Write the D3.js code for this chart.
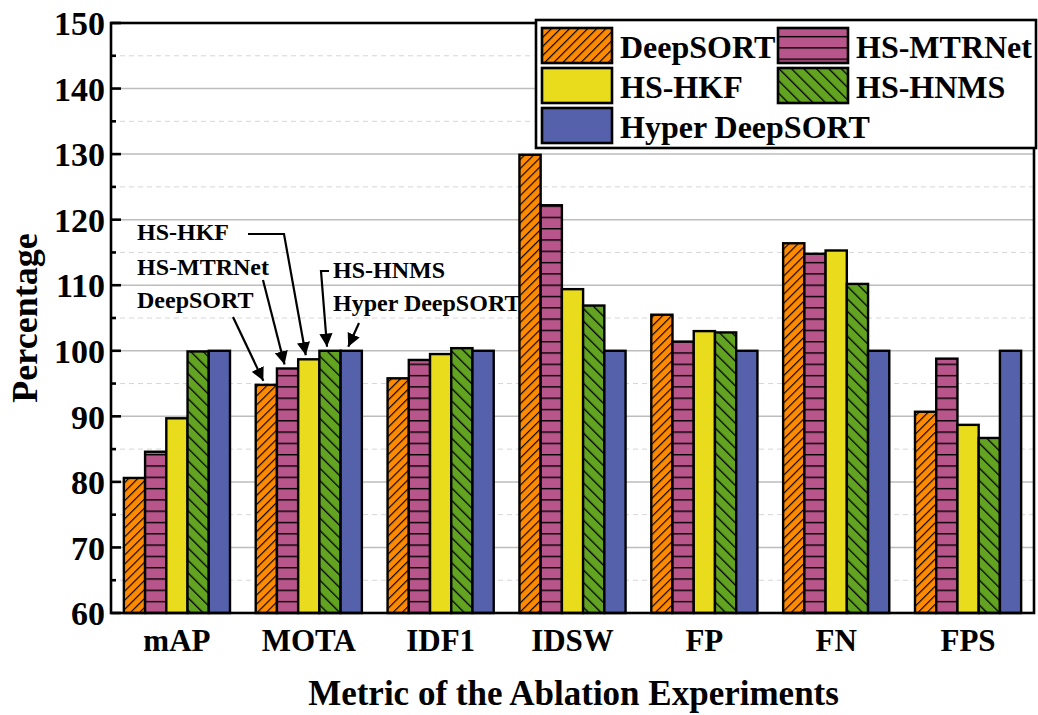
<!DOCTYPE html>
<html>
<head>
<meta charset="utf-8">
<script src="https://cdn.jsdelivr.net/npm/d3@7"></script>
<style>
  html, body { margin: 0; padding: 0; background: #fff; }
  svg { display: block; font-family: "Liberation Serif", "Times New Roman", serif; font-weight: bold; }
</style>
</head>
<body>
<svg id="chart" width="1038" height="715"></svg>
<script>
// Metrics on the x axis
const categories = ["mAP", "MOTA", "IDF1", "IDSW", "FP", "FN", "FPS"];
// Methods compared in the ablation study
const seriesNames = ["DeepSORT", "HS-MTRNet", "HS-HKF", "HS-HNMS", "Hyper DeepSORT"];
// Percentage values, one array per method (same order as categories)
const deepSORT      = [80.6, 94.8, 95.8, 129.9, 105.5, 116.4, 90.7];
const hsMTRNet      = [84.6, 97.3, 98.6, 122.2, 101.4, 114.8, 98.8];
const hsHKF         = [89.7, 98.7, 99.5, 109.4, 103.0, 115.3, 88.7];
const hsHNMS        = [99.9, 100.0, 100.4, 106.9, 102.8, 110.2, 86.7];
const hyperDeepSORT = [100.0, 100.0, 100.0, 100.0, 100.0, 100.0, 100.0];
const seriesValues = [deepSORT, hsMTRNet, hsHKF, hsHNMS, hyperDeepSORT];
// Y axis ticks
const majorTicks = [60, 70, 80, 90, 100, 110, 120, 130, 140, 150];
const minorTicks = [65, 75, 85, 95, 105, 115, 125, 135, 145];

const svg = d3.select("#chart");
const margin = { left: 111, right: 1034, top: 23, bottom: 613 };

const x = d3.scaleBand().domain(categories).range([margin.left, margin.right]).padding(0);
const groupW = x.bandwidth() * 0.805;
const xs = d3.scaleBand().domain(seriesNames).range([0, groupW]).padding(0);
const y = d3.scaleLinear().domain([60, 150]).range([margin.bottom, margin.top]);

// Fill patterns
const defs = svg.append("defs");
function hatch(id, bg, size, angle, sw) {
  const p = defs.append("pattern").attr("id", id).attr("patternUnits", "userSpaceOnUse")
    .attr("width", size).attr("height", size).attr("patternTransform", `rotate(${angle})`);
  p.append("rect").attr("width", size).attr("height", size).attr("fill", bg);
  p.append("line").attr("x1", 0).attr("y1", -1).attr("x2", 0).attr("y2", size + 1)
    .attr("stroke", "#000").attr("stroke-width", sw);
}
hatch("pDeep", "#FF8A00", 6.4, 45, 2.3);
hatch("pHNMS", "#63A322", 8.8, -45, 2.6);
const ph = defs.append("pattern").attr("id", "pMTR").attr("patternUnits", "userSpaceOnUse")
  .attr("width", 20).attr("height", 11.3).attr("y", 2);
ph.append("rect").attr("width", 20).attr("height", 11.3).attr("fill", "#B8558A");
ph.append("line").attr("x1", 0).attr("x2", 20).attr("y1", 0).attr("y2", 0)
  .attr("stroke", "#000").attr("stroke-width", 2.8);

const fills = {
  "DeepSORT": "url(#pDeep)",
  "HS-MTRNet": "url(#pMTR)",
  "HS-HKF": "#E8DC1C",
  "HS-HNMS": "url(#pHNMS)",
  "Hyper DeepSORT": "#5661AB"
};

// Grid lines
svg.append("g").selectAll("line.minor").data(minorTicks).join("line")
  .attr("x1", margin.left).attr("x2", margin.right)
  .attr("y1", d => y(d)).attr("y2", d => y(d))
  .attr("stroke", "#d6d6d6").attr("stroke-width", 1).attr("stroke-dasharray", "5,4");
svg.append("g").selectAll("line.major").data(majorTicks.filter(d => d > 60 && d < 150)).join("line")
  .attr("x1", margin.left).attr("x2", margin.right)
  .attr("y1", d => y(d)).attr("y2", d => y(d))
  .attr("stroke", "#bdbdbd").attr("stroke-width", 1.5);

// Bars
const rows = [];
categories.forEach((c, i) => seriesNames.forEach((s, j) => rows.push({ c, s, v: seriesValues[j][i] })));
const gx = c => x(c) + (x.bandwidth() - groupW) / 2;
svg.append("g").selectAll("rect").data(rows).join("rect")
  .attr("x", d => gx(d.c) + xs(d.s))
  .attr("y", d => y(d.v))
  .attr("width", xs.bandwidth())
  .attr("height", d => y(60) - y(d.v))
  .attr("fill", d => fills[d.s])
  .attr("stroke", "#000").attr("stroke-width", 2.4);

// Frame
svg.append("rect").attr("x", margin.left).attr("y", margin.top)
  .attr("width", margin.right - margin.left).attr("height", margin.bottom - margin.top)
  .attr("fill", "none").attr("stroke", "#000").attr("stroke-width", 2.6);

// Y axis ticks (inward) and labels
svg.append("g").selectAll("line").data(majorTicks).join("line")
  .attr("x1", margin.left).attr("x2", margin.left + 10)
  .attr("y1", d => y(d)).attr("y2", d => y(d)).attr("stroke", "#000").attr("stroke-width", 2.6);
svg.append("g").selectAll("line").data(minorTicks).join("line")
  .attr("x1", margin.left).attr("x2", margin.left + 5)
  .attr("y1", d => y(d)).attr("y2", d => y(d)).attr("stroke", "#000").attr("stroke-width", 2.6);
svg.append("g").selectAll("text").data(majorTicks).join("text")
  .attr("x", margin.left - 6).attr("y", d => y(d)).attr("dy", "0.36em")
  .attr("text-anchor", "end").attr("font-size", 34).text(d => d);

// X labels
svg.append("g").selectAll("text").data(categories).join("text")
  .attr("x", d => x(d) + x.bandwidth() / 2).attr("y", 651)
  .attr("text-anchor", "middle").attr("font-size", 31).text(d => d);

// Axis titles
svg.append("text").attr("x", (margin.left + margin.right) / 2 + 1).attr("y", 705)
  .attr("text-anchor", "middle").attr("font-size", 35).text("Metric of the Ablation Experiments");
svg.append("text").attr("transform", `translate(37,${(margin.top + margin.bottom) / 2}) rotate(-90)`)
  .attr("text-anchor", "middle").attr("font-size", 36).text("Percentage");

// Legend
const lg = svg.append("g");
lg.append("rect").attr("x", 536).attr("y", 20).attr("width", 500).attr("height", 128)
  .attr("fill", "#fff").attr("stroke", "#000").attr("stroke-width", 2.6);
const legendPos = [
  { s: "DeepSORT", x: 542, y: 28 },
  { s: "HS-MTRNet", x: 778, y: 28 },
  { s: "HS-HKF", x: 542, y: 68 },
  { s: "HS-HNMS", x: 778, y: 68 },
  { s: "Hyper DeepSORT", x: 542, y: 108 }
];
legendPos.forEach(d => {
  lg.append("rect").attr("x", d.x).attr("y", d.y).attr("width", 70).attr("height", 35)
    .attr("fill", fills[d.s]).attr("stroke", "#000").attr("stroke-width", 2.6);
  lg.append("text").attr("x", d.x + 78).attr("y", d.y + 30).attr("font-size", 32).text(d.s);
});

// Annotations pointing at the MOTA bars
defs.append("marker").attr("id", "arrow").attr("viewBox", "0 0 10 10")
  .attr("refX", 10).attr("refY", 5).attr("markerWidth", 6).attr("markerHeight", 6)
  .attr("markerUnits", "strokeWidth").attr("orient", "auto")
  .append("path").attr("d", "M0,0 L10,5 L0,10 z").attr("fill", "#000");

const bx = s => gx("MOTA") + xs(s) + xs.bandwidth() / 2;
const by = s => y(seriesValues[seriesNames.indexOf(s)][1]);
const notes = [
  { s: "HS-HKF", tx: 137, ty: 240, path: [[248, 234], [284, 234]] },
  { s: "HS-MTRNet", tx: 137, ty: 275, path: [[263, 280]] },
  { s: "DeepSORT", tx: 137, ty: 308, path: [[233, 317]] },
  { s: "HS-HNMS", tx: 333, ty: 278, path: [[329, 271], [321, 271]] },
  { s: "Hyper DeepSORT", tx: 333, ty: 311, path: [[359, 323]] }
];
const ann = svg.append("g");
notes.forEach(n => {
  ann.append("text").attr("x", n.tx).attr("y", n.ty).attr("font-size", 24).text(n.s);
  const pts = n.path.concat([[bx(n.s) - 3, by(n.s) - 4]]);
  ann.append("path").attr("d", d3.line()(pts)).attr("fill", "none")
    .attr("stroke", "#000").attr("stroke-width", 2.2).attr("marker-end", "url(#arrow)");
});
</script>
</body>
</html>
